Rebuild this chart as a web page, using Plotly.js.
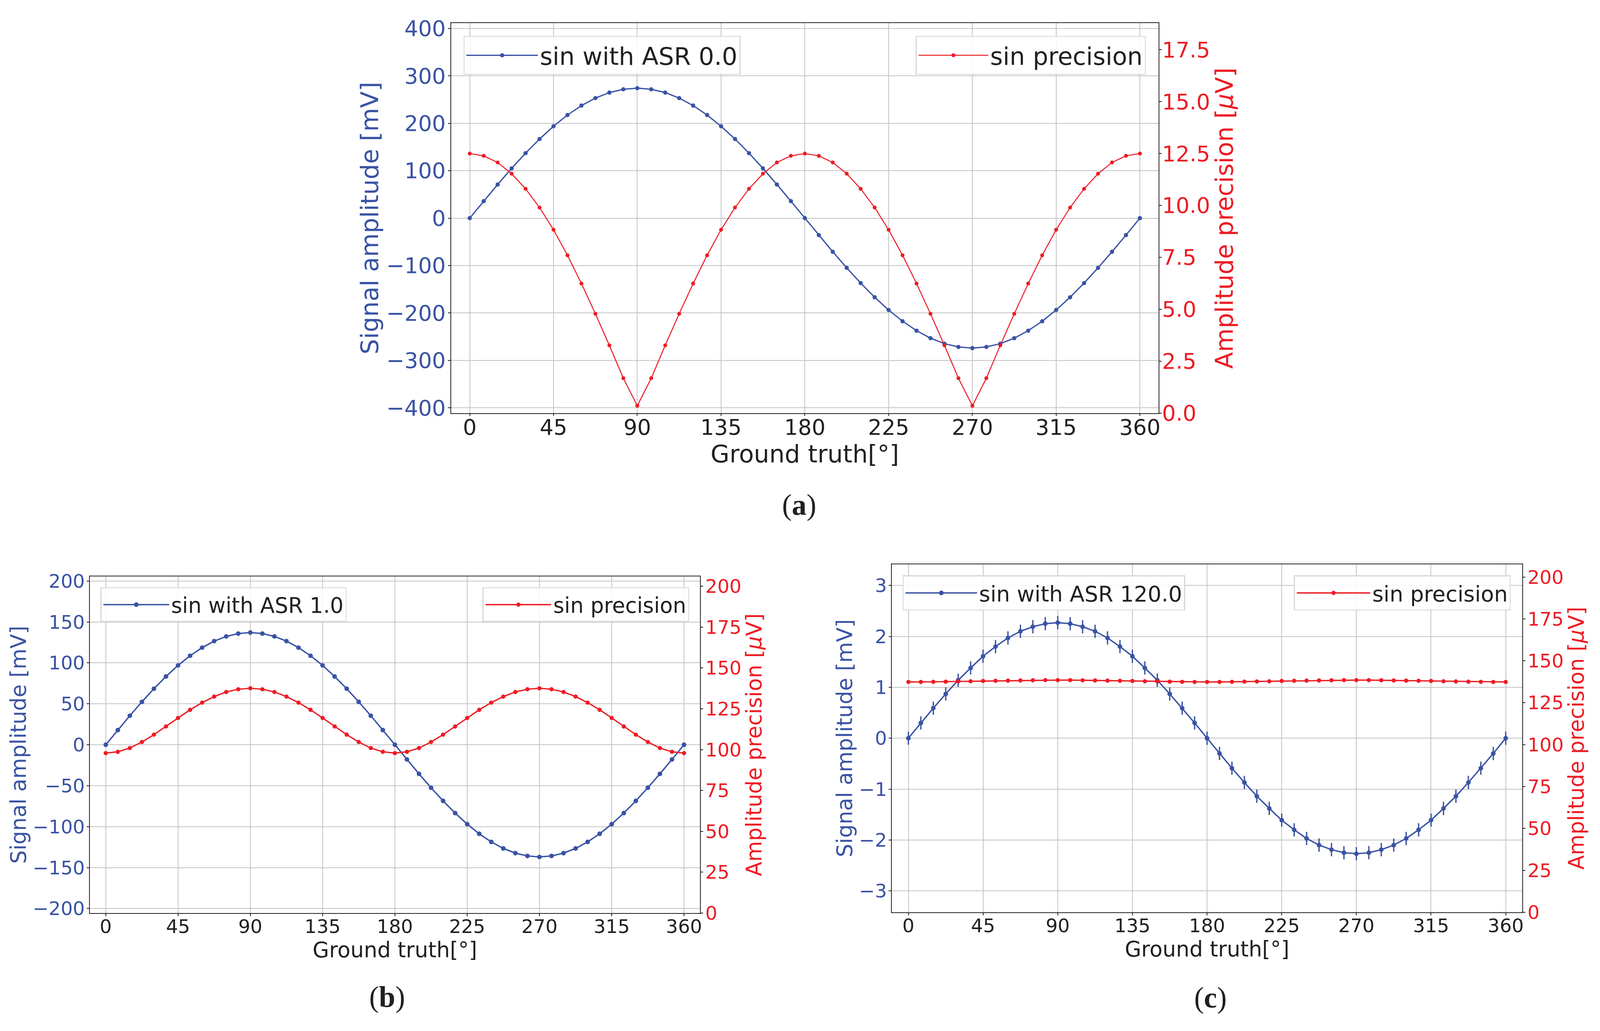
<!DOCTYPE html>
<html>
<head>
<meta charset="utf-8">
<script src="https://cdn.plot.ly/plotly-3.0.1.min.js"></script>
<style>html,body{margin:0;padding:0;background:#fff;overflow:hidden;}</style>
</head>
<body>
<div id="chart"></div>
<script>
// ---- data ----
const groundTruth = [0,7.5,15,22.5,30,37.5,45,52.5,60,67.5,75,82.5,90,97.5,105,112.5,120,127.5,135,142.5,150,157.5,165,172.5,180,187.5,195,202.5,210,217.5,225,232.5,240,247.5,255,262.5,270,277.5,285,292.5,300,307.5,315,322.5,330,337.5,345,352.5,360];

const ampA = [0,35.8,70.9,104.9,137.0,166.8,193.7,217.4,237.3,253.1,264.7,271.6,274.0,
  271.6,264.7,253.1,237.3,217.4,193.7,166.8,137.0,104.9,70.9,35.8,0,
  -35.8,-70.9,-104.9,-137.0,-166.8,-193.7,-217.4,-237.3,-253.1,-264.7,-271.6,-274.0,
  -271.6,-264.7,-253.1,-237.3,-217.4,-193.7,-166.8,-137.0,-104.9,-70.9,-35.8,0];
const precA = [12.5,12.39,12.07,11.53,10.8,9.9,8.83,7.6,6.24,4.78,3.26,1.68,0.35,
  1.68,3.26,4.78,6.24,7.6,8.83,9.9,10.8,11.53,12.07,12.39,12.5,
  12.39,12.07,11.53,10.8,9.9,8.83,7.6,6.24,4.78,3.26,1.68,0.35,
  1.68,3.26,4.78,6.24,7.6,8.83,9.9,10.8,11.53,12.07,12.39,12.5];

const ampB = [0,17.9,35.5,52.4,68.5,83.4,96.9,108.7,118.6,126.6,132.3,135.8,137.0,
  135.8,132.3,126.6,118.6,108.7,96.9,83.4,68.5,52.4,35.5,17.9,0,
  -17.9,-35.5,-52.4,-68.5,-83.4,-96.9,-108.7,-118.6,-126.6,-132.3,-135.8,-137.0,
  -135.8,-132.3,-126.6,-118.6,-108.7,-96.9,-83.4,-68.5,-52.4,-35.5,-17.9,0];
const precB = [97.9,98.7,101.0,104.7,109.2,114.2,119.4,124.4,128.8,132.5,135.3,137.0,137.6,
  137.0,135.3,132.5,128.8,124.4,119.4,114.2,109.2,104.7,101.0,98.7,97.9,
  98.7,101.0,104.7,109.2,114.2,119.4,124.4,128.8,132.5,135.3,137.0,137.6,
  137.0,135.3,132.5,128.8,124.4,119.4,114.2,109.2,104.7,101.0,98.7,97.9];

const ampC = [0,0.30,0.59,0.87,1.14,1.38,1.61,1.80,1.97,2.10,2.19,2.25,2.27,
  2.25,2.19,2.10,1.97,1.80,1.61,1.38,1.14,0.87,0.59,0.30,0,
  -0.30,-0.59,-0.87,-1.14,-1.38,-1.61,-1.80,-1.97,-2.10,-2.19,-2.25,-2.27,
  -2.25,-2.19,-2.10,-1.97,-1.80,-1.61,-1.38,-1.14,-0.87,-0.59,-0.30,0];
const errC = [0.13,0.13,0.13,0.13,0.13,0.13,0.13,0.13,0.13,0.13,0.13,0.13,0.13,
  0.13,0.13,0.13,0.13,0.13,0.13,0.13,0.13,0.13,0.13,0.13,0.13,
  0.13,0.13,0.13,0.13,0.13,0.13,0.13,0.13,0.13,0.13,0.13,0.13,
  0.13,0.13,0.13,0.13,0.13,0.13,0.13,0.13,0.13,0.13,0.13,0.13];
const precC = [137.4,137.4,137.5,137.6,137.7,137.8,138.0,138.1,138.2,138.3,138.4,138.5,138.5,
  138.5,138.4,138.3,138.2,138.1,138.0,137.8,137.7,137.6,137.5,137.4,137.4,
  137.4,137.5,137.6,137.7,137.8,138.0,138.1,138.2,138.3,138.4,138.5,138.5,
  138.5,138.4,138.3,138.2,138.1,138.0,137.8,137.7,137.6,137.5,137.4,137.4];

const xTicks = [0,45,90,135,180,225,270,315,360];
const seriesNames = ['sin with ASR 0.0','sin with ASR 1.0','sin with ASR 120.0'];
const precName = 'sin precision';
const panelLabels = ['(<b>a</b>)','(<b>b</b>)','(<b>c</b>)'];

// ---- page geometry: fit the 4139x2640 design into the visible viewport ----
const REF_W = 4139, REF_H = 2640;
const vw = window.innerWidth || REF_W, vh = window.innerHeight || REF_H;
const S = Math.min(vw / REF_W, vh / REF_H, 0.9903);
const W = Math.floor(REF_W * S), H = Math.floor(REF_H * S);
const s = v => v * S;                 // pixel sizes
const px = v => v / REF_W, py = v => 1 - v / REF_H;   // paper fractions

// ---- styles ----
const BLUE = '#3953a4', RED = '#ed1c24', INK = '#231f20', GRID = '#c3c3c3';
const FONT = 'DejaVu Sans';

function blueTrace(y, name, xa, ya, leg, big, err) {
  const t = {x: groundTruth, y: y, name: name, type: 'scatter', mode: 'lines+markers',
    xaxis: xa, yaxis: ya, legend: leg,
    line: {color: BLUE, width: s(big ? 3.3 : 3.6)}, marker: {color: BLUE, size: s(big ? 11 : 12)}};
  if (err) t.error_y = {type: 'data', array: err, visible: true, color: BLUE, thickness: s(3.4), width: 0};
  return t;
}
function redTrace(y, xa, ya, leg, big) {
  return {x: groundTruth, y: y, name: precName, type: 'scatter', mode: 'lines+markers',
    xaxis: xa, yaxis: ya, legend: leg,
    line: {color: RED, width: s(big ? 2.6 : 3.4)}, marker: {color: RED, size: s(big ? 10 : 11)}};
}

const data = [
  blueTrace(ampA, seriesNames[0], 'x', 'y', 'legend', true),
  redTrace(precA, 'x', 'y2', 'legend2', true),
  blueTrace(ampB, seriesNames[1], 'x2', 'y3', 'legend3', false),
  redTrace(precB, 'x2', 'y4', 'legend4', false),
  blueTrace(ampC, seriesNames[2], 'x3', 'y5', 'legend5', false, errC),
  redTrace(precC, 'x3', 'y6', 'legend6', false)
];

function xAxis(domain, anchor, tickSize, titleSize, standoff, lblOff) {
  return {domain: domain, anchor: anchor, range: [-10, 370], tickvals: xTicks,
    showgrid: true, gridcolor: GRID, gridwidth: s(1.6), zeroline: false,
    showline: true, linecolor: INK, linewidth: s(1.6), mirror: true,
    ticks: 'outside', ticklen: s(6), tickwidth: s(1.6), tickcolor: INK, ticklabelstandoff: Math.round(s(lblOff)),
    tickfont: {family: FONT, size: s(tickSize), color: INK},
    title: {text: 'Ground truth[°]', font: {family: FONT, size: s(titleSize), color: INK}, standoff: s(standoff)}};
}
function leftAxis(domain, anchor, range, dtick, tickSize, titleSize, standoff) {
  return {domain: domain, anchor: anchor, range: range, dtick: dtick, tick0: 0,
    showgrid: true, gridcolor: GRID, gridwidth: s(1.6), zeroline: false,
    showline: true, linecolor: INK, linewidth: s(1.6),
    ticks: 'outside', ticklen: s(6), tickwidth: s(1.6), tickcolor: INK, ticklabelstandoff: Math.round(s(-5)),
    tickfont: {family: FONT, size: s(tickSize), color: BLUE},
    title: {text: 'Signal amplitude [mV]', font: {family: FONT, size: s(titleSize), color: BLUE}, standoff: s(standoff)}};
}
function rightAxis(overlay, anchor, range, dtick, fmt, tickSize, titleSize, standoff, lblOff) {
  return {overlaying: overlay, anchor: anchor, side: 'right', range: range, dtick: dtick, tick0: 0,
    tickformat: fmt, showgrid: false, zeroline: false,
    showline: true, linecolor: INK, linewidth: s(1.6),
    ticks: 'outside', ticklen: s(6), tickwidth: s(1.6), tickcolor: INK, ticklabelstandoff: Math.round(s(lblOff)),
    tickfont: {family: FONT, size: s(tickSize), color: RED},
    title: {text: 'Amplitude precision [<i>μ</i>V]', font: {family: FONT, size: s(titleSize), color: RED}, standoff: s(standoff)}};
}
function legendBox(x, y, xanchor, size, itemW) {
  return {x: x, y: y, xanchor: xanchor, yanchor: 'top', bgcolor: 'rgba(255,255,255,0.85)',
    bordercolor: '#d6d6d6', borderwidth: s(2.5), itemwidth: s(itemW),
    font: {family: FONT, size: s(size), color: INK}};
}
function panelLabel(text, x, y) {
  return {text: text, xref: 'paper', yref: 'paper', x: px(x), y: py(y), showarrow: false,
    xanchor: 'center', yanchor: 'middle', font: {family: 'Liberation Serif', size: s(76), color: INK}};
}

const layout = {
  width: W, height: H, margin: {l: 0, r: 0, t: 0, b: 0, pad: 0},
  paper_bgcolor: '#ffffff', plot_bgcolor: '#ffffff', showlegend: true,
  font: {family: FONT, color: INK},
  xaxis: xAxis([px(1167), px(2997)], 'y', 56, 63, 4, -19),
  yaxis: leftAxis([py(1069), py(60)], 'x', [-411, 411], 100, 56, 63, 0),
  yaxis2: rightAxis('y', 'x', [0, 18.78], 2.5, '.1f', 56, 63, 1, -10),
  xaxis2: xAxis([px(232), px(1811)], 'y3', 49, 55, 8, -15),
  yaxis3: leftAxis([py(2363), py(1492)], 'x2', [-205.5, 205.5], 50, 49, 55, 0),
  yaxis4: rightAxis('y3', 'x2', [0, 206], 25, '', 49, 55, 0, -4),
  xaxis3: xAxis([px(2307), px(3938)], 'y5', 49, 55, 8, -15),
  yaxis5: leftAxis([py(2361), py(1460)], 'x3', [-3.42, 3.42], 1, 49, 55, 0),
  yaxis6: rightAxis('y5', 'x3', [0, 207.7], 25, '', 49, 55, 0, -4),
  legend:  legendBox(px(1199), py(93), 'left', 63, 185),
  legend2: legendBox(px(2964), py(93), 'right', 63, 180),
  legend3: legendBox(px(260), py(1520), 'left', 55, 170),
  legend4: legendBox(px(1783), py(1520), 'right', 55, 170),
  legend5: legendBox(px(2335), py(1489), 'left', 56, 185),
  legend6: legendBox(px(3908), py(1489), 'right', 56, 190),
  annotations: [
    panelLabel(panelLabels[0], 2067, 1307),
    panelLabel(panelLabels[1], 1001, 2580),
    panelLabel(panelLabels[2], 3131, 2582)
  ]
};

Plotly.newPlot('chart', data, layout, {displayModeBar: false, responsive: false});
</script>
</body>
</html>
